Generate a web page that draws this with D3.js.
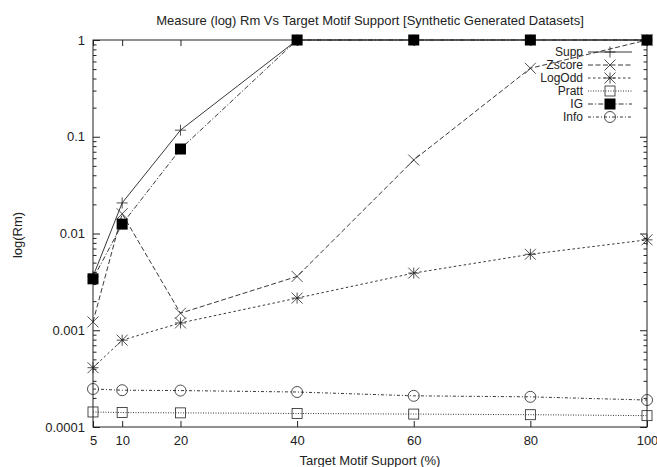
<!DOCTYPE html>
<html>
<head>
<meta charset="utf-8">
<script src="https://cdn.jsdelivr.net/npm/d3@7"></script>
<style>
  body { margin: 0; background: #fff; }
  svg { display: block; font-family: "Liberation Sans", Arial, sans-serif; }
</style>
</head>
<body>
<svg id="chart" width="657" height="467"></svg>
<script>
// target motif support (%)
const support = [5, 10, 20, 40, 60, 80, 100]
const supp = [0.0036, 0.0207, 0.117, 1, 1, 1, 1]
const zscore = [0.00122, 0.016, 0.0015, 0.0036, 0.0575, 0.51, 1]
const logOdd = [0.00041, 0.00079, 0.00119, 0.00215, 0.0039, 0.0061, 0.0086]
const pratt = [0.000143, 0.000141, 0.00014, 0.000138, 0.000136, 0.000134, 0.000131]
const ig = [0.0034, 0.0125, 0.0747, 1, 1, 1, 1]
const info = [0.000247, 0.00024, 0.000238, 0.00023, 0.00021, 0.000205, 0.00019]
const yTicks = [0.0001, 0.001, 0.01, 0.1, 1]
const yTickLabels = ["0.0001", "0.001", "0.01", "0.1", "1"]

const seriesNames = ["Supp", "Zscore", "LogOdd", "Pratt", "IG", "Info"]
const seriesValues = [supp, zscore, logOdd, pratt, ig, info]
const dashes = ["none", "5,2.5", "2.5,2.5", "1,1.5", "5,2,1.2,2", "3,2,1,2"]
const markers = ["plus", "cross", "star", "square", "filled", "circle"]

const svg = d3.select("#chart")
const plotLeft = 93, plotRight = 647, plotTop = 40, plotBottom = 427

const x = d3.scaleLinear().domain([5, 100]).range([plotLeft, plotRight])
const y = d3.scaleLog().domain([0.0001, 1]).range([plotBottom, plotTop])

const ink = "#222"
const fontSize = 13

// frame
svg.append("rect")
    .attr("x", plotLeft).attr("y", plotTop)
    .attr("width", plotRight - plotLeft).attr("height", plotBottom - plotTop)
    .attr("fill", "none").attr("stroke", ink).attr("stroke-width", 1)

// minor ticks on log axis
const minor = []
for (let e = -4; e < 0; e++) for (let m = 2; m <= 9; m++) minor.push(m * Math.pow(10, e))

const axisStyle = g => {
    g.select(".domain").remove()
    g.selectAll("line").attr("stroke", ink)
    g.selectAll("text").attr("fill", ink).attr("font-size", fontSize)
}

svg.append("g").attr("transform", `translate(0,${plotBottom})`)
    .call(d3.axisBottom(x).tickValues(support).tickSize(-6).tickPadding(9).tickFormat(d3.format("d")))
    .call(axisStyle)
svg.append("g").attr("transform", `translate(0,${plotTop})`)
    .call(d3.axisTop(x).tickValues(support).tickSize(-6).tickFormat(""))
    .call(axisStyle)
svg.append("g").attr("transform", `translate(${plotLeft},0)`)
    .call(d3.axisLeft(y).tickValues(yTicks).tickSize(-7).tickPadding(8)
        .tickFormat((d, i) => yTickLabels[i]))
    .call(axisStyle)
svg.append("g").attr("transform", `translate(${plotRight},0)`)
    .call(d3.axisRight(y).tickValues(yTicks).tickSize(-7).tickFormat(""))
    .call(axisStyle)
svg.append("g").attr("transform", `translate(${plotLeft},0)`)
    .call(d3.axisLeft(y).tickValues(minor).tickSize(-3.5).tickFormat(""))
    .call(axisStyle)
svg.append("g").attr("transform", `translate(${plotRight},0)`)
    .call(d3.axisRight(y).tickValues(minor).tickSize(-3.5).tickFormat(""))
    .call(axisStyle)

// markers
const drawMarker = (g, type, cx, cy) => {
    const s = 5.5
    if (type === "plus") {
        g.append("path").attr("d", `M${cx - s},${cy}H${cx + s}M${cx},${cy - s}V${cy + s}`)
            .attr("stroke", ink).attr("stroke-width", 0.8)
    } else if (type === "cross") {
        g.append("path").attr("d", `M${cx - s},${cy - s}L${cx + s},${cy + s}M${cx - s},${cy + s}L${cx + s},${cy - s}`)
            .attr("stroke", ink).attr("stroke-width", 0.8)
    } else if (type === "star") {
        g.append("path").attr("d", `M${cx - s},${cy - s}L${cx + s},${cy + s}M${cx - s},${cy + s}L${cx + s},${cy - s}M${cx - s},${cy}H${cx + s}M${cx},${cy - s}V${cy + s}`)
            .attr("stroke", ink).attr("stroke-width", 0.8)
    } else if (type === "square") {
        g.append("rect").attr("x", cx - 5).attr("y", cy - 5).attr("width", 10).attr("height", 10)
            .attr("fill", "none").attr("stroke", ink).attr("stroke-width", 0.8)
    } else if (type === "filled") {
        g.append("rect").attr("x", cx - 5.5).attr("y", cy - 5.5).attr("width", 11).attr("height", 11)
            .attr("fill", "#000")
    } else if (type === "circle") {
        g.append("circle").attr("cx", cx).attr("cy", cy).attr("r", 5.5)
            .attr("fill", "none").attr("stroke", ink).attr("stroke-width", 0.8)
    }
}

const line = d3.line().x(d => x(d.x)).y(d => y(d.v))

seriesValues.forEach((vals, i) => {
    const pts = support.map((s, j) => ({ x: s, v: vals[j] }))
    const g = svg.append("g")
    g.append("path").datum(pts)
        .attr("d", line)
        .attr("fill", "none")
        .attr("stroke", ink)
        .attr("stroke-width", 0.9)
        .attr("stroke-dasharray", dashes[i])
    pts.forEach(p => drawMarker(g, markers[i], x(p.x), y(p.v)))
})

// legend
const legend = svg.append("g")
seriesNames.forEach((name, i) => {
    const ly = 52 + i * 13
    legend.append("text")
        .attr("x", 583).attr("y", ly).attr("dy", "0.35em")
        .attr("text-anchor", "end").attr("font-size", 12).attr("fill", ink)
        .text(name)
    legend.append("line")
        .attr("x1", 588).attr("x2", 632).attr("y1", ly).attr("y2", ly)
        .attr("stroke", ink).attr("stroke-width", 0.9)
        .attr("stroke-dasharray", dashes[i])
    drawMarker(legend, markers[i], 610, ly)
})

// titles
svg.append("text")
    .attr("x", 370).attr("y", 20).attr("dy", "0.35em")
    .attr("text-anchor", "middle").attr("font-size", fontSize).attr("fill", ink)
    .text("Measure (log) Rm Vs Target Motif Support [Synthetic Generated Datasets]")
svg.append("text")
    .attr("x", 370).attr("y", 460).attr("dy", "0.35em")
    .attr("text-anchor", "middle").attr("font-size", fontSize).attr("fill", ink)
    .text("Target Motif Support (%)")
svg.append("text")
    .attr("transform", "translate(17,235) rotate(-90)")
    .attr("dy", "0.35em")
    .attr("text-anchor", "middle").attr("font-size", fontSize).attr("fill", ink)
    .text("log(Rm)")
</script>
</body>
</html>
